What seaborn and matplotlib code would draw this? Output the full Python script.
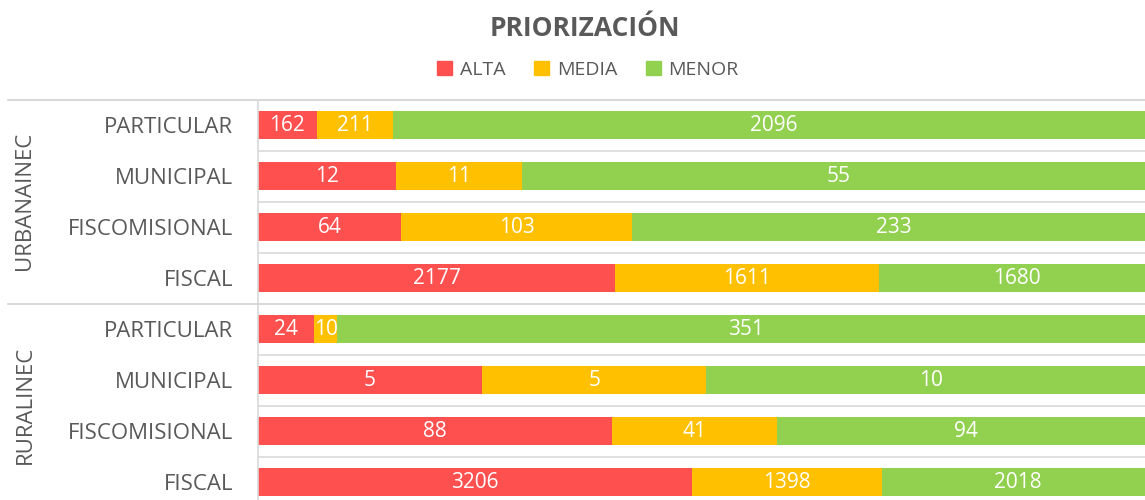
import matplotlib
matplotlib.use("Agg")
import matplotlib.pyplot as plt
import seaborn as sns
import pandas as pd
import numpy as np
from matplotlib.patches import Patch
from matplotlib.lines import Line2D

# data
groups = ["URBANAINEC"] * 4 + ["RURALINEC"] * 4
types = ["PARTICULAR", "MUNICIPAL", "FISCOMISIONAL", "FISCAL"] * 2
alta = [162, 12, 64, 2177, 24, 5, 88, 3206]
media = [211, 11, 103, 1611, 10, 5, 41, 1398]
menor = [2096, 55, 233, 1680, 351, 10, 94, 2018]
series = ["ALTA", "MEDIA", "MENOR"]
colors = ["#FF5050", "#FFC000", "#92D050"]

sns.set_theme(style="white")
plt.rcParams["font.family"] = ["Open Sans", "DejaVu Sans"]
txt = "#595959"
grid_c = "#D9D9D9"

df = pd.DataFrame({"row": [f"{g}|{t}" for g, t in zip(groups, types)],
                   "ALTA": alta, "MEDIA": media, "MENOR": menor})
tot = df[series].sum(axis=1)
for s in series:
    df[s + "_p"] = df[s] / tot
df["c1"] = df["ALTA_p"]
df["c2"] = df["c1"] + df["MEDIA_p"]
df["c3"] = df["c2"] + df["MENOR_p"]

fig = plt.figure(figsize=(11.45, 5.0), dpi=100)
ax = fig.add_axes([258 / 1145, 0.0, 1 - 258 / 1145, 1 - 99.5 / 500])

# overlay cumulative bars, back to front
for col, c in zip(["c3", "c2", "c1"], colors[::-1]):
    sns.barplot(data=df, x=col, y="row", color=c, width=0.56,
                saturation=1, ax=ax, orient="h", linewidth=0)

# segment labels
starts = [np.zeros(len(df)), df["c1"].values, df["c2"].values]
for s, st in zip(series, starts):
    w = df[s + "_p"].values
    for i, (v, x0, ww) in enumerate(zip(df[s], st, w)):
        ax.text(x0 + ww / 2, i, str(v), ha="center", va="center",
                color="white", fontsize=15)

ax.set_xlim(0, 0.989)
ax.set_ylim(7.35, -0.5)
ax.set_xlabel("")
ax.set_ylabel("")
ax.set_xticks([])
ax.set_yticks(range(len(df)))
ax.set_yticklabels(types, fontsize=16, color=txt)
ax.tick_params(axis="y", length=0, pad=18)
for sp in ["top", "right", "bottom"]:
    ax.spines[sp].set_visible(False)
ax.spines["left"].set_color(grid_c)
ax.spines["left"].set_linewidth(1.2)

# category separators
for yb in [0.5, 1.5, 2.5, 4.5, 5.5, 6.5]:
    ax.axhline(yb, color=grid_c, lw=1.2, zorder=0)

# group separators extending to the left
for ypix in [99.5, 303.5]:
    yf = 1 - ypix / 500
    fig.add_artist(Line2D([8 / 1145, 1], [yf, yf], color=grid_c, lw=1.5))

# group labels
fig.text(25 / 1145, 1 - 201 / 500, "URBANAINEC", rotation=90, ha="center",
         va="center", fontsize=16, color=txt)
fig.text(25 / 1145, 1 - 405 / 500, "RURALINEC", rotation=90, ha="center",
         va="center", fontsize=16, color=txt)

fig.text(585 / 1145, 1 - 28 / 500, "PRIORIZACIÓN", ha="center", va="center",
         fontsize=19, fontweight="bold", color=txt)
handles = [Patch(color=c, label=s) for s, c in zip(series, colors)]
fig.legend(handles=handles, loc="center", bbox_to_anchor=(588 / 1145, 1 - 70 / 500),
           ncol=3, frameon=False, fontsize=14, labelcolor=txt,
           handlelength=0.75, handleheight=0.75, handletextpad=0.4, columnspacing=1.5)

fig.savefig("out.png", dpi=100)
